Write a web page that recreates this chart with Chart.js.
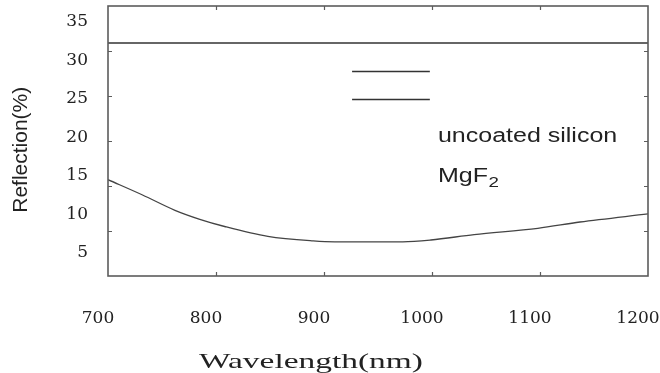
<!DOCTYPE html>
<html><head><meta charset="utf-8">
<script src="https://cdn.jsdelivr.net/npm/chart.js@4.4.1/dist/chart.umd.min.js"></script>
<style>html,body{margin:0;padding:0;background:#fff;}#wrap{width:660px;height:373px;}</style>
</head><body><div id="wrap"><canvas id="c" width="660" height="373"></canvas></div>
<script>
// ---- data ----
const mgf2Wavelengths = [700, 732, 762, 785, 808, 848, 890, 910, 973, 999, 1039, 1098, 1137, 1200];
const mgf2Reflection  = [15.7, 14.0, 12.3, 11.3, 10.5, 9.4, 8.9, 8.8, 8.8, 9.0, 9.6, 10.3, 11.0, 11.9];
const siliconWavelengths = [700, 1200];
const siliconReflection  = [30.9, 30.9];
const xTickValues = [700, 800, 900, 1000, 1100, 1200];
const yTickValues = [5, 10, 15, 20, 25, 30, 35];
const seriesLabels = ['uncoated silicon', 'MgF₂'];
const xAxisTitle = 'Wavelength(nm)';
const yAxisTitle = 'Reflection(%)';

const toPoints = (xs, ys) => xs.map((x, i) => ({x: x, y: ys[i]}));

const framePlugin = {
  id: 'frame',
  afterDatasetsDraw(chart) {
    const {ctx, chartArea: a, scales} = chart;
    ctx.save();
    ctx.strokeStyle = '#5c5c5c';
    ctx.lineWidth = 1.6;
    ctx.strokeRect(a.left, a.top, a.right - a.left, a.bottom - a.top);
    ctx.lineWidth = 1.2;
    const len = 4;
    ctx.beginPath();
    xTickValues.forEach(v => {
      const px = Math.round(scales.x.getPixelForValue(v)) + 0.5;
      if (px <= a.left + 2 || px >= a.right - 2) return;
      ctx.moveTo(px, a.bottom); ctx.lineTo(px, a.bottom - len);
      ctx.moveTo(px, a.top); ctx.lineTo(px, a.top + len);
    });
    yTickValues.forEach(v => {
      const py = Math.round(scales.y.getPixelForValue(v)) + 0.5;
      if (py <= a.top + 2 || py >= a.bottom - 2) return;
      ctx.moveTo(a.left, py); ctx.lineTo(a.left + len, py);
      ctx.moveTo(a.right, py); ctx.lineTo(a.right - len, py);
    });
    ctx.stroke();
    ctx.restore();
  },
  afterDraw(chart) {
    const {ctx, chartArea: a} = chart;
    const W = a.right - a.left, H = a.bottom - a.top;
    ctx.save();
    // legend sample lines
    ctx.strokeStyle = '#333';
    ctx.lineWidth = 1.5;
    const lx0 = a.left + 0.452 * W, lx1 = a.left + 0.596 * W;
    [0.2396, 0.3456].forEach(f => {
      const y = Math.round(a.top + f * H) + 0.5;
      ctx.beginPath(); ctx.moveTo(lx0, y); ctx.lineTo(lx1, y); ctx.stroke();
    });
    // legend texts (horizontally stretched like the source image)
    const sx = 1.25;
    ctx.fillStyle = '#222';
    ctx.textBaseline = 'alphabetic';
    ctx.textAlign = 'left';
    const tx = a.left + 0.611 * W;
    ctx.save();
    ctx.translate(tx, a.top + 0.505 * H);
    ctx.scale(sx, 1);
    ctx.font = '20px "Liberation Sans", Arial, sans-serif';
    ctx.fillText(seriesLabels[0], 0, 0);
    ctx.restore();
    ctx.save();
    ctx.translate(tx, a.top + 0.65 * H);
    ctx.scale(sx, 1);
    ctx.font = '20px "Liberation Sans", Arial, sans-serif';
    const base = seriesLabels[1].replace('₂', '');
    ctx.fillText(base, 0, 0);
    const w = ctx.measureText(base).width;
    ctx.font = '15px "Liberation Sans", Arial, sans-serif';
    ctx.fillText('2', w + 0.5, 5);
    ctx.restore();
    // x axis title
    ctx.save();
    ctx.translate(a.left + 0.376 * W, 368);
    ctx.scale(1.52, 1);
    ctx.font = '22px "Liberation Serif", "Times New Roman", serif';
    ctx.textAlign = 'center';
    ctx.fillText(xAxisTitle, 0, 0);
    ctx.restore();
    ctx.restore();
  }
};

new Chart(document.getElementById('c'), {
  type: 'line',
  data: {
    datasets: [
      {label: seriesLabels[0], data: toPoints(siliconWavelengths, siliconReflection),
       borderColor: '#333', borderWidth: 1.5, pointRadius: 0, fill: false, xAxisID: 'x', yAxisID: 'y'},
      {label: seriesLabels[1], data: toPoints(mgf2Wavelengths, mgf2Reflection),
       borderColor: '#444', borderWidth: 1.3, pointRadius: 0, fill: false, cubicInterpolationMode: 'monotone', xAxisID: 'x', yAxisID: 'y'}
    ]
  },
  options: {
    responsive: false, animation: false, devicePixelRatio: 1,
    layout: {padding: {top: 6, right: 12, left: 0, bottom: 0}},
    plugins: {legend: {display: false}, tooltip: {enabled: false}},
    scales: {
      x: {type: 'linear', position: 'bottom', min: 700, max: 1200,
          afterBuildTicks: s => { s.ticks = xTickValues.map(v => ({value: v})); },
          ticks: {padding: 32, labelOffset: -10, color: '#222', autoSkip: false, maxRotation: 0,
                  callback: v => String(v),
                  font: {family: 'DejaVu Serif', size: 17}},
          grid: {display: false, drawTicks: false}, border: {display: false},
          afterFit: s => { s.height = 97; s.paddingLeft = 0; s.paddingRight = 0; }},
      y: {type: 'linear', display: false, min: 5, max: 35},
      yl: {type: 'linear', position: 'left', min: 1.974, max: 37.03,
           afterBuildTicks: s => { s.ticks = yTickValues.map(v => ({value: v})); },
           ticks: {padding: 20, color: '#222', autoSkip: false, callback: v => String(v),
                   font: {family: 'DejaVu Serif', size: 17}},
           grid: {display: false, drawTicks: false}, border: {display: false},
           title: {display: true, text: yAxisTitle + '   ', color: '#222', font: {family: 'Liberation Sans', size: 21}, padding: {top: 9, bottom: 0}},
           afterFit: s => { s.width = 108; s.paddingTop = 0; s.paddingBottom = 0; }}
    }
  },
  plugins: [framePlugin]
});
</script></body></html>
